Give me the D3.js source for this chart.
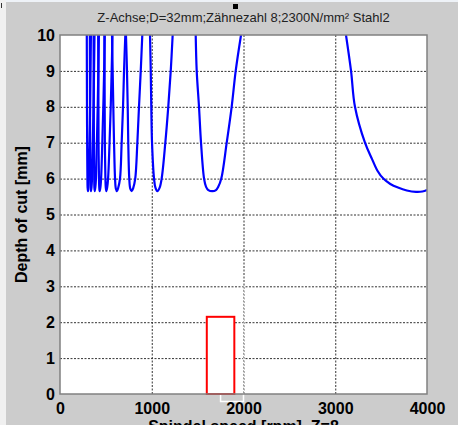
<!DOCTYPE html>
<html lang="de">
<head>
  <meta charset="UTF-8" />
  <title>Stabilitätskarte</title>
  <script src="https://d3js.org/d3.v7.min.js"></script>
  <style>
    html, body { margin: 0; padding: 0; background: #cccccc; }
    svg { display: block; font-family: "Liberation Sans", Arial, sans-serif; }
    .tick-label { font-size: 16px; font-weight: bold; fill: #000; }
    .axis-title { font-size: 16px; font-weight: bold; fill: #000; }
    .grid line { stroke: #333; stroke-width: 1; stroke-dasharray: 2,1.5; }
    .grid path { display: none; }
    .lobe { fill: none; stroke: #0000ff; stroke-width: 2.2px; }
  </style>
</head>
<body>
  <svg id="chart"></svg>
  <script>
    // Stabilitätskeulen: [Drehzahl rpm, Schnitttiefe mm]
    const lobe0 = [[3117,10],[3172,9],[3215,8],[3324,7],[3400,6.55],[3460,6.22],[3524,6],[3600,5.85],[3684,5.75],[3780,5.67],[3880,5.63],[3950,5.64],[4000,5.68]];
    const lobe1 = [[1479,10],[1490,9],[1515,8],[1537,7],[1570,6],[1592,5.77],[1617,5.68],[1660,5.65],[1700,5.68],[1725,5.77],[1758,6],[1817,7],[1871,8],[1915,9],[1973,10]];
    const lobe2 = [[981,10],[989,9],[995,8],[1003,7],[1025,6],[1040,5.75],[1061,5.65],[1085,5.74],[1108,6],[1148,7],[1180,8],[1207,9],[1228,10]];
    const lobe3 = [[719,10],[730,9],[738,8],[744,7],[755,6],[766,5.72],[781,5.65],[797,5.73],[820,6],[843,7],[861,8],[880,9],[897,10]];
    const lobe4 = [[567,10],[574,9],[581,8],[589,7],[600,6],[609,5.72],[621,5.65],[634,5.74],[654,6],[672,7],[687,8],[698,9],[712,10]];
    const lobe5 = [[484,10],[486,9],[487,8],[489,7],[495,6],[499,5.75],[505,5.65],[514,5.75],[524,6],[540,7],[553,8],[563,9],[572,10]];
    const lobe6 = [[416,10],[418,9],[419,8],[420,7],[425,6],[428,5.75],[432,5.65],[440,5.75],[448,6],[461,7],[472,8],[481,9],[488,10]];
    const lobe7 = [[366,10],[367,9],[368,8],[370,7],[373,6],[375,5.75],[379,5.65],[385,5.75],[392,6],[402,7],[411,8],[418,9],[424,10]];
    const lobe8 = [[325,10],[326,9],[327,8],[329,7],[332,6],[334,5.75],[338,5.65],[343,5.75],[349,6],[358,7],[365,8],[371,9],[376,10]];
    const lobe9 = [[292,10],[293,9],[294,8],[296,7],[299,6],[301,5.75],[305,5.65],[309,5.75],[314,6],[322,7],[328,8],[333,9],[337,10]];
    const lobes = [lobe0, lobe1, lobe2, lobe3, lobe4, lobe5, lobe6, lobe7, lobe8, lobe9];

    // markiertes Fenster (rot)
    const windowRpm = [1600, 1900];
    const windowDepth = 2.15;

    const xTicks = [0, 1000, 2000, 3000, 4000];
    const yTicks = [0, 1, 2, 3, 4, 5, 6, 7, 8, 9, 10];

    const titleText = "Z-Achse;D=32mm;Zähnezahl 8;2300N/mm² Stahl2";
    const xTitle = "Spindel speed [rpm], Z=8";
    const yTitle = "Depth of cut [mm]";

    const W = 458, H = 425;
    const margin = { top: 35, right: 31, bottom: 31, left: 60 };
    const width = W - margin.left - margin.right;
    const height = H - margin.top - margin.bottom;

    const svg = d3.select("#chart").attr("width", W).attr("height", H);

    svg.append("rect").attr("width", W).attr("height", H).attr("fill", "#cccccc");
    svg.append("rect").attr("width", W).attr("height", 2).attr("fill", "#eef2f7");
    svg.append("rect").attr("width", 6).attr("height", H).attr("fill", "#f0f0f0");
    svg.append("rect").attr("x", 1).attr("y", 3).attr("width", 1).attr("height", 5).attr("fill", "#333");
    svg.append("rect").attr("x", 233).attr("y", 4).attr("width", 5).attr("height", 5).attr("fill", "#000");

    const g = svg.append("g").attr("transform", `translate(${margin.left},${margin.top})`);

    const x = d3.scaleLinear().domain([0, 4000]).range([0, width]);
    const y = d3.scaleLinear().domain([0, 10]).range([height, 0]);

    g.append("rect").attr("width", width).attr("height", height).attr("fill", "#fff");

    g.append("g").attr("class", "grid")
      .attr("transform", `translate(0,${height})`)
      .call(d3.axisBottom(x).tickValues(xTicks.slice(1, -1)).tickSize(-height).tickFormat(""));
    g.append("g").attr("class", "grid")
      .call(d3.axisLeft(y).tickValues(yTicks.slice(1, -1)).tickSize(-width).tickFormat(""));

    g.append("clipPath").attr("id", "clip")
      .append("rect").attr("width", width).attr("height", height);

    const line = d3.line()
      .x(d => x(d[0]))
      .y(d => y(d[1]))
      .curve(d3.curveCatmullRom.alpha(0.5));

    g.append("g").attr("clip-path", "url(#clip)")
      .selectAll("path")
      .data(lobes)
      .join("path")
      .attr("class", "lobe")
      .attr("d", line);

    // weiße Markierung unter dem Fenster
    g.append("path")
      .attr("d", `M${x(1750)},${height}V${height + 7.5}H${x(2000)}V${y(3)}`)
      .attr("fill", "none").attr("stroke", "#fff").attr("stroke-width", 1.5);
    g.append("line")
      .attr("x1", x(2000)).attr("x2", x(2000)).attr("y1", y(3)).attr("y2", height)
      .attr("stroke", "#999").attr("stroke-dasharray", "2,1.5");

    g.append("rect")
      .attr("x", x(windowRpm[0]))
      .attr("y", y(windowDepth))
      .attr("width", x(windowRpm[1]) - x(windowRpm[0]))
      .attr("height", y(0) - y(windowDepth))
      .attr("fill", "#fff")
      .attr("stroke", "#ff0000")
      .attr("stroke-width", 2);

    g.append("rect").attr("width", width).attr("height", height)
      .attr("fill", "none").attr("stroke", "#808080").attr("stroke-width", 1.5);

    const xAxis = g.append("g").attr("transform", `translate(0,${height})`)
      .call(d3.axisBottom(x).tickValues(xTicks).tickSize(0).tickPadding(9).tickFormat(d3.format("d")));
    xAxis.select(".domain").remove();
    xAxis.selectAll("text").attr("class", "tick-label").attr("font-size", null).attr("font-family", null);

    const yAxis = g.append("g")
      .call(d3.axisLeft(y).tickValues(yTicks).tickSize(0).tickPadding(5).tickFormat(d3.format("d")));
    yAxis.select(".domain").remove();
    yAxis.selectAll("text").attr("class", "tick-label").attr("font-size", null).attr("font-family", null);

    svg.append("text")
      .attr("x", margin.left + width / 2).attr("y", 22)
      .attr("text-anchor", "middle")
      .attr("font-size", 13).attr("fill", "#222")
      .text(titleText);

    svg.append("text").attr("class", "axis-title")
      .attr("x", margin.left + width / 2).attr("y", 432)
      .attr("text-anchor", "middle")
      .text(xTitle);

    svg.append("text").attr("class", "axis-title")
      .attr("transform", `translate(27,${margin.top + height / 2}) rotate(-90)`)
      .attr("text-anchor", "middle")
      .text(yTitle);
  </script>
</body>
</html>
